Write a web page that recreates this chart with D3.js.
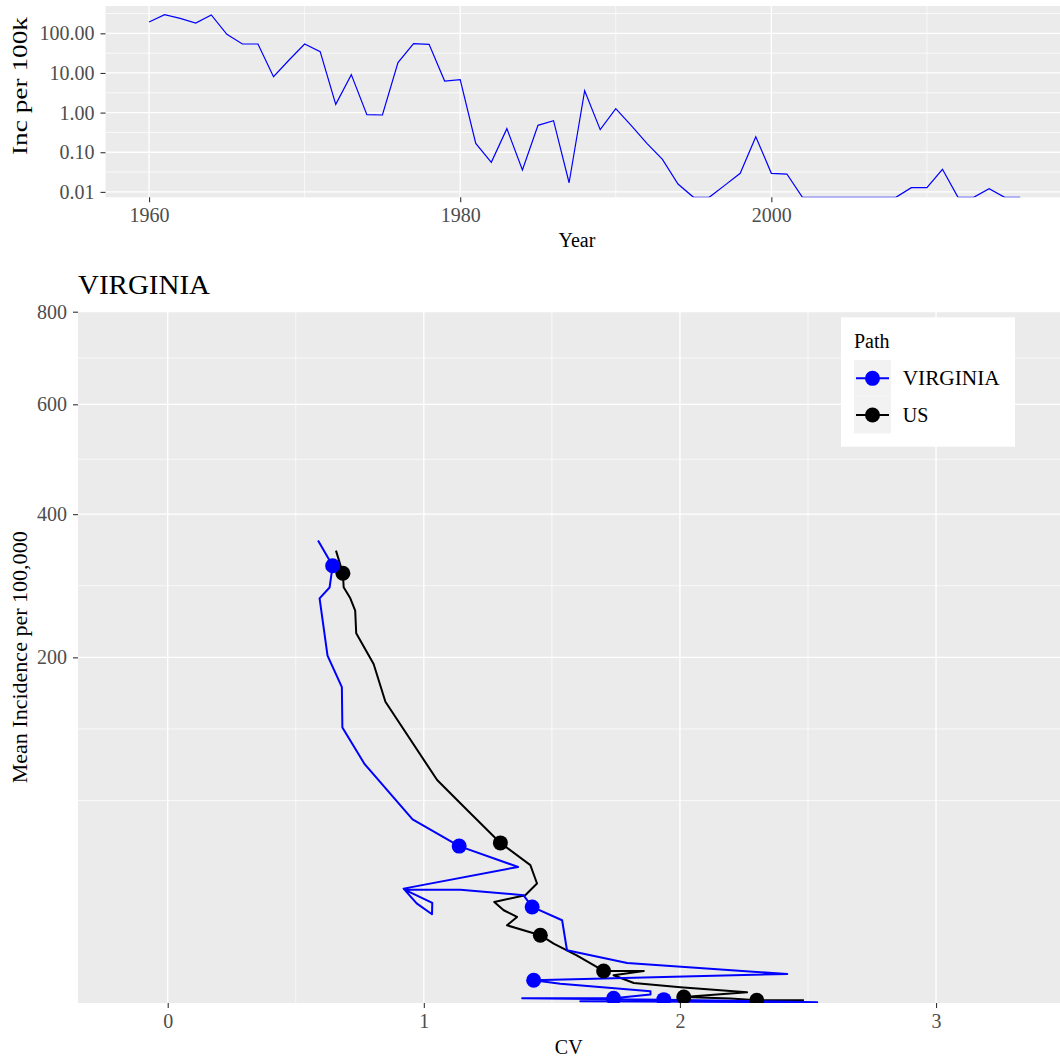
<!DOCTYPE html>
<html><head><meta charset="utf-8">
<script src="https://cdn.jsdelivr.net/npm/d3@7"></script>
<style>
body{margin:0;background:#fff}
svg text{font-family:"Liberation Serif","Times New Roman",serif}
</style>
</head><body>
<svg id="chart" width="1060" height="1057"></svg>
<script>
// ---------- DATA ----------
const topYears = [1960,1961,1962,1963,1964,1965,1966,1967,1968,1969,1970,1971,1972,1973,1974,1975,1976,1977,1978,1979,1980,1981,1982,1983,1984,1985,1986,1987,1988,1989,1990,1991,1992,1993,1994,1995,1996,1997,1998,1999,2000,2001,2002,2003,2004,2005,2006,2007,2008,2009,2010,2011,2012,2013,2014,2015,2016];
const vaIncidence = [193,295,239,182,290,94.4,53.8,53.8,8.05,21.2,53.8,34.4,1.62,9.08,0.887,0.871,18.2,54.8,52.6,6.25,6.78,0.1675,0.0557,0.394,0.0356,0.477,0.625,0.017,3.56,0.372,1.256,0.467,0.1675,0.0662,0.0158,0,0,0.0146,0.0294,0.247,0.0294,0.0282,0,0,0,0,0,0,0,0.0128,0.0128,0.0371,0,0,0.0121,0,0];
const topYTicks = [0.01,0.1,1,10,100];
const topYTickLabels = ["0.01","0.10","1.00","10.00","100.00"];
const topXTicks = [1960,1980,2000];

const seriesNames = ["VIRGINIA","US"];
const vaCV   = [0.587,0.644,0.632,0.593,0.624,0.680,0.682,0.769,0.956,1.138,1.368,0.921,0.972,1.032,1.033,0.945,0.925,1.143,1.389,1.423,1.540,1.559,1.794,2.419,1.429,1.533,1.885,1.885,1.741,1.384,1.937,2.536,1.611,2.25];
const vaMean = [358,320,289,274,202,167,127,95.5,56.4,41.2,31.0,21.9,16.6,13.2,16.8,20.6,21.6,21.5,19.45,15.45,11.47,4.66,2.68,1.41,0.864,0.62,0.23,0.12,0.037,0.037,0.019,0.001,0.005,0.002];
const usCV   = [0.657,0.684,0.687,0.713,0.732,0.736,0.804,0.850,1.052,1.174,1.299,1.416,1.442,1.396,1.275,1.312,1.364,1.325,1.455,1.507,1.597,1.702,1.859,1.741,1.820,2.002,2.262,2.015,2.197,2.300,2.484];
const usMean = [342.6,309.2,289.4,274.2,257.7,228.8,192.4,151.9,83.2,61.6,42.9,31.8,23.9,19.45,17.1,14.4,12.4,10.1,7.69,5.92,3.81,1.72,1.72,1.29,0.67,0.41,0.19,0.060,0.0325,0.0122,0.0122];
const vaDotCV   = [0.644,1.138,1.423,1.429,1.741,1.937];
const vaDotMean = [320,41.2,15.45,0.864,0.037,0.019];
const usDotCV   = [0.684,1.299,1.455,1.702,2.015,2.300];
const usDotMean = [309.2,42.9,7.69,1.72,0.060,0.0122];
const botYTicks = [200,400,600,800];
const botXTicks = [0,1,2,3];

// ---------- SETUP ----------
const svg = d3.select("#chart");
const PANEL = "#ebebeb", TICKC = "#333333", LABC = "#4d4d4d";
const FS = 20;

function styleAxis(g){
  g.select(".domain").remove();
  g.selectAll(".tick line").attr("stroke", TICKC).attr("stroke-width", 1.1);
  g.selectAll(".tick text").attr("fill", LABC).attr("font-size", FS)
    .attr("font-family", '"Liberation Serif","Times New Roman",serif');
  g.attr("font-family", null).attr("font-size", null);
}

// ---------- TOP CHART ----------
const tL = 105.5, tT = 6, tB = 197.3;
const pxPerYear = 15.557;
const xExp = 0.05 * (2016 - 1960);
const xTop = d3.scaleLinear().domain([1960 - xExp, 2016 + xExp])
  .range([tL, tL + (2016 - 1960 + 2 * xExp) * pxPerYear]);
const pos = vaIncidence.filter(v => v > 0);
const lmin = Math.log10(d3.min(pos)), lmax = Math.log10(d3.max(pos));
const e = 0.05 * (lmax - lmin);
const yTop = d3.scaleLog().domain([Math.pow(10, lmin - e), Math.pow(10, lmax + e)]).range([tB, tT]);
const tR = xTop.range()[1];

const defs = svg.append("defs");
defs.append("clipPath").attr("id","clipTop")
  .append("rect").attr("x", tL).attr("y", tT).attr("width", tR - tL).attr("height", tB - tT);
defs.append("clipPath").attr("id","clipBot")
  .append("rect").attr("x", 78).attr("y", 311.7).attr("width", 1060-78+10).attr("height", 1003-311.7);

const gTop = svg.append("g");
gTop.append("rect").attr("x", tL).attr("y", tT).attr("width", tR - tL).attr("height", tB - tT).attr("fill", PANEL);
const topMinorY = topYTicks.map(t => t * Math.sqrt(10)).concat([topYTicks[0] / Math.sqrt(10)])
  .filter(v => v >= yTop.domain()[0] && v <= yTop.domain()[1]);
const topMinorX = [1950,1970,1990,2010].filter(v => v >= xTop.domain()[0] && v <= xTop.domain()[1]);
gTop.selectAll(".mny").data(topMinorY).join("line")
  .attr("x1", tL).attr("x2", tR).attr("y1", d => yTop(d)).attr("y2", d => yTop(d))
  .attr("stroke", "#fff").attr("stroke-width", 0.7);
gTop.selectAll(".mnx").data(topMinorX).join("line")
  .attr("y1", tT).attr("y2", tB).attr("x1", d => xTop(d)).attr("x2", d => xTop(d))
  .attr("stroke", "#fff").attr("stroke-width", 0.7);
gTop.selectAll(".mjy").data(topYTicks).join("line")
  .attr("x1", tL).attr("x2", tR).attr("y1", d => yTop(d)).attr("y2", d => yTop(d))
  .attr("stroke", "#fff").attr("stroke-width", 1.3);
gTop.selectAll(".mjx").data(topXTicks).join("line")
  .attr("y1", tT).attr("y2", tB).attr("x1", d => xTop(d)).attr("x2", d => xTop(d))
  .attr("stroke", "#fff").attr("stroke-width", 1.3);

const topLine = d3.line()
  .x((d, i) => xTop(topYears[i]))
  .y(d => d > 0 ? yTop(d) : yTop.range()[0]);
gTop.append("path").datum(vaIncidence).attr("d", topLine)
  .attr("fill", "none").attr("stroke", "#0000ff").attr("stroke-width", 1.2)
  .attr("clip-path", "url(#clipTop)");

const axTopY = svg.append("g").attr("transform", `translate(${tL},0)`)
  .call(d3.axisLeft(yTop).tickValues(topYTicks).tickFormat((d, i) => topYTickLabels[i]).tickSize(5).tickPadding(6));
styleAxis(axTopY);
const axTopX = svg.append("g").attr("transform", `translate(0,${tB})`)
  .call(d3.axisBottom(xTop).tickValues(topXTicks).tickFormat(d3.format("d")).tickSize(5).tickPadding(6));
styleAxis(axTopX);

svg.append("text").attr("x", xTop(1987.5)).attr("y", 247).attr("text-anchor", "middle")
  .attr("font-size", FS).attr("fill", "#000").text("Year");
svg.append("text").attr("transform", `translate(27,86) rotate(-90)`)
  .attr("text-anchor", "middle").attr("font-size", FS).attr("fill", "#000")
  .attr("textLength", 138).attr("lengthAdjust", "spacingAndGlyphs").text("Inc per 100k");

// ---------- BOTTOM CHART ----------
const bL = 78, bT = 311.7, bB = 1003;
const xBot = d3.scaleLinear().domain([-0.3503, 3.484]).range([bL, 1060]);
const yBot = d3.scaleSqrt().domain([0, 800]).range([bB, bT]);
const bR = 1064;

const gBot = svg.append("g");
gBot.append("rect").attr("x", bL).attr("y", bT).attr("width", bR - bL).attr("height", bB - bT).attr("fill", PANEL);
const sq = botYTicks.map(Math.sqrt);
const step = sq[1] - sq[0];
const ext = [sq[0] - step].concat(sq);
const botMinorY = [ext[0] * ext[0]];
for (let i = 0; i < ext.length - 1; i++) { const m = (ext[i] + ext[i + 1]) / 2; botMinorY.push(m * m); }
const botMinorX = [-0.5,0.5,1.5,2.5,3.5].filter(v => v >= xBot.domain()[0]);
gBot.selectAll(".mny").data(botMinorY).join("line")
  .attr("x1", bL).attr("x2", bR).attr("y1", d => yBot(d)).attr("y2", d => yBot(d))
  .attr("stroke", "#fff").attr("stroke-width", 0.7);
gBot.selectAll(".mnx").data(botMinorX).join("line")
  .attr("y1", bT).attr("y2", bB).attr("x1", d => xBot(d)).attr("x2", d => xBot(d))
  .attr("stroke", "#fff").attr("stroke-width", 0.7);
gBot.selectAll(".mjy").data(botYTicks).join("line")
  .attr("x1", bL).attr("x2", bR).attr("y1", d => yBot(d)).attr("y2", d => yBot(d))
  .attr("stroke", "#fff").attr("stroke-width", 1.3);
gBot.selectAll(".mjx").data(botXTicks).join("line")
  .attr("y1", bT).attr("y2", bB).attr("x1", d => xBot(d)).attr("x2", d => xBot(d))
  .attr("stroke", "#fff").attr("stroke-width", 1.3);

const colors = {"VIRGINIA": "#0000ff", "US": "#000000"};
const paths = [
  {name: "US", cv: usCV, m: usMean, dcv: usDotCV, dm: usDotMean},
  {name: "VIRGINIA", cv: vaCV, m: vaMean, dcv: vaDotCV, dm: vaDotMean}
];
const pathLine = d3.line().x(d => xBot(d[0])).y(d => yBot(d[1]));
const gData = gBot.append("g").attr("clip-path", "url(#clipBot)");
paths.forEach(p => {
  const pts = p.cv.map((c, i) => [c, p.m[i]]);
  gData.append("path").datum(pts).attr("d", pathLine)
    .attr("fill", "none").attr("stroke", colors[p.name]).attr("stroke-width", 2)
    .attr("stroke-linejoin", "round");
});
paths.forEach(p => {
  const dots = p.dcv.map((c, i) => [c, p.dm[i]]);
  gData.selectAll(null).data(dots).join("circle")
    .attr("cx", d => xBot(d[0])).attr("cy", d => yBot(d[1])).attr("r", 7.5)
    .attr("fill", colors[p.name]);
});

const axBotY = svg.append("g").attr("transform", `translate(${bL},0)`)
  .call(d3.axisLeft(yBot).tickValues(botYTicks).tickFormat(d3.format("d")).tickSize(5).tickPadding(6));
styleAxis(axBotY);
const axBotX = svg.append("g").attr("transform", `translate(0,${bB})`)
  .call(d3.axisBottom(xBot).tickValues(botXTicks).tickFormat(d3.format("d")).tickSize(5).tickPadding(6));
styleAxis(axBotX);

svg.append("text").attr("x", xBot(1.5657)).attr("y", 1054).attr("text-anchor", "middle")
  .attr("font-size", FS).attr("fill", "#000").text("CV");
svg.append("text").attr("transform", `translate(27,${(bT + bB) / 2}) rotate(-90)`)
  .attr("text-anchor", "middle").attr("font-size", FS).attr("fill", "#000")
  .attr("textLength", 252).attr("lengthAdjust", "spacingAndGlyphs").text("Mean Incidence per 100,000");
svg.append("text").attr("x", 78).attr("y", 294).attr("font-size", 27).attr("fill", "#000")
  .attr("textLength", 132).attr("lengthAdjust", "spacingAndGlyphs").text("VIRGINIA");

// ---------- LEGEND ----------
const lg = svg.append("g");
lg.append("rect").attr("x", 841).attr("y", 317.3).attr("width", 174).attr("height", 129.4).attr("fill", "#fff");
lg.append("text").attr("x", 854).attr("y", 348).attr("font-size", FS).attr("fill", "#000").text("Path");
const keyH = 36.7;
const items = lg.selectAll(".item").data(seriesNames).join("g")
  .attr("transform", (d, i) => `translate(854,${360 + i * keyH})`);
items.append("rect").attr("width", 37).attr("height", keyH).attr("fill", "#f2f2f2");
items.append("line").attr("x1", 2).attr("x2", 35).attr("y1", keyH / 2).attr("y2", keyH / 2)
  .attr("stroke", d => colors[d]).attr("stroke-width", 2);
items.append("circle").attr("cx", 18.5).attr("cy", keyH / 2).attr("r", 7.5).attr("fill", d => colors[d]);
items.append("text").attr("x", 48.7).attr("y", keyH / 2 + 7).attr("font-size", FS).attr("fill", "#000")
  .each(function(d){ if (d === "VIRGINIA") d3.select(this).attr("textLength", 97).attr("lengthAdjust", "spacingAndGlyphs"); })
  .text(d => d);
</script>
</body></html>
